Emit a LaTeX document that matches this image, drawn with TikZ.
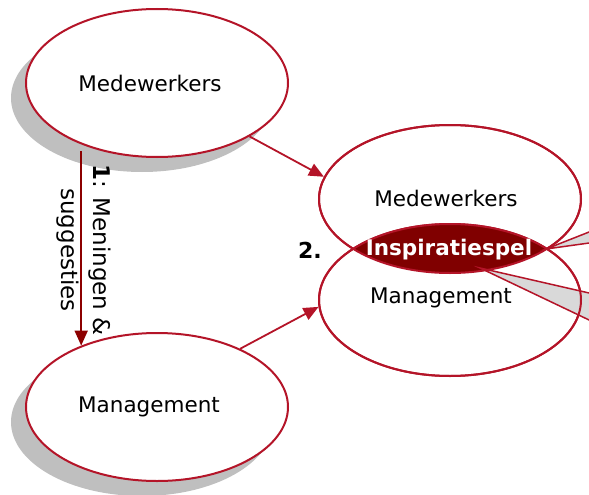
\documentclass[tikz,border=0pt]{standalone}
\usepackage{fontspec}
\setmainfont{DejaVu Sans}
\usetikzlibrary{arrows.meta,shapes.geometric,shadows}
\definecolor{rim}{RGB}{180,20,40}
\definecolor{lensred}{RGB}{128,0,0}
\definecolor{darkarrow}{RGB}{140,0,0}
\definecolor{shade}{RGB}{191,191,191}
\definecolor{wedge}{RGB}{217,217,217}
\tikzset{
  bigfont/.style={font=\fontsize{21.5}{25}\selectfont},
  bubble/.style={ellipse,draw=rim,fill=white,line width=2pt,inner sep=0pt,
    minimum width=262pt,minimum height=148pt,bigfont},
  shadowed/.style={drop shadow={shadow xshift=-15pt,shadow yshift=-15pt,fill=shade,opacity=1}},
  link/.style={draw=rim,line width=1.8pt,-{Triangle[length=15pt,width=13pt]}},
}
\begin{document}
\begin{tikzpicture}[x=1pt,y=-1pt]
		\useasboundingbox (0,0) rectangle (589,495);
		
		% Draw left ellipses
		\node[bubble,shadowed,label={[bigfont,xshift=-7pt]center:Medewerkers}] (medL) at (157,83) {};
		\node[bubble,shadowed,label={[bigfont,xshift=-8pt]center:Management}] (mgmtL) at (157,407) {};
		
		% Draw right ellipses
		\node[bubble] (medR)  at (450,199) {};
		\node[bubble,minimum height=152pt] (mgmtR) at (450,300) {};
		\begin{scope}
			\clip (medR.center) ellipse [x radius=131, y radius=74];
			\fill[lensred] (mgmtR.center) ellipse [x radius=131, y radius=76];
		\end{scope}
		
		% Draw callout pointers
		\coordinate (tipA) at (546,249);
		\coordinate (tipB) at (480,268);
		\foreach \t/\a/\b in {tipA/227.7/241.5, tipB/295.5/325.2}{
			\filldraw[fill=wedge,draw=rim,line width=1.5pt] (\t) -- (600,\a) -- (600,\b) -- cycle;
		}
		\draw[rim,line width=2pt] (medR.center) ellipse [x radius=131, y radius=74]
			(mgmtR.center) ellipse [x radius=131, y radius=76];
		
		% Labels
		\node[bigfont] at (446,198) {Medewerkers};
		\node[bigfont] at (441,298) {Management};
		\node[font=\fontsize{21.5}{25}\selectfont\bfseries,text=white] (spel) at (449,250) {Inspiratiespel};
		\node[font=\fontsize{22}{25}\selectfont\bfseries] (two) at (310,250) {2.};
		
		% Draw arrows
		\draw[link] (medL.-30) -- (medR.170);
		\draw[link] (mgmtL.35) -- (mgmtR.183);
		\draw[darkarrow,line width=1.8pt,-{Triangle[length=15pt,width=13pt]}]
			([yshift=-7pt]medL.-141.6) -- (medL.-141.6 |- mgmtL.141.6);
		\node[rotate=-90,align=center,font=\fontsize{23}{32}\selectfont] (step1) at (84,250)
			{\textbf{1}: Meningen \&\\suggesties};
	\end{tikzpicture}
\end{document}
